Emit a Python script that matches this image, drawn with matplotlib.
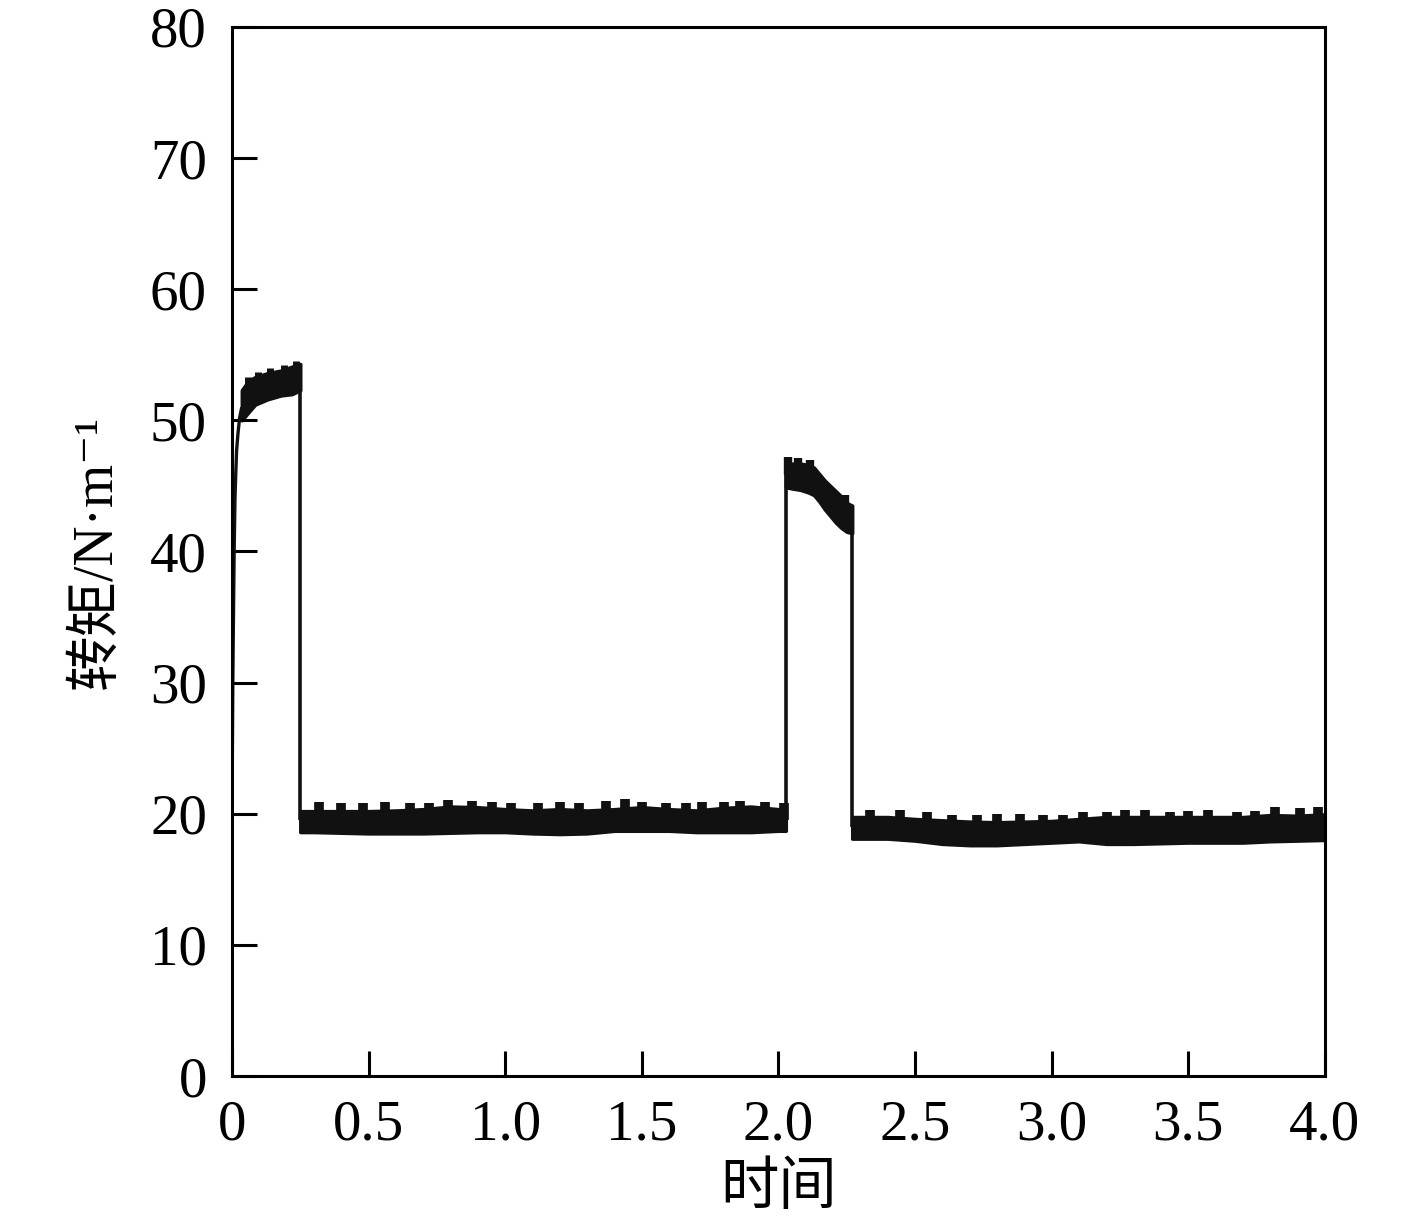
import matplotlib
matplotlib.use("Agg")
import matplotlib.pyplot as plt
import numpy as np

plt.rcParams["font.family"] = ["Liberation Serif", "Noto Sans CJK SC", "DejaVu Serif"]

# start-up curve (thin line)
rise_t = [0.0, 0.003, 0.008, 0.011, 0.014, 0.017, 0.022, 0.028, 0.036]
rise_v = [19.5, 30.0, 40.0, 44.0, 46.0, 47.7, 49.0, 50.2, 51.0]

# noisy band envelopes: first load (t 0.036-0.25)
band0_t = [0.036, 0.06, 0.085, 0.13, 0.18, 0.22, 0.25]
band0_top = [52.3, 53.0, 53.3, 53.6, 53.8, 54.1, 54.3]
band0_bot = [50.0, 50.6, 51.2, 51.6, 51.9, 52.0, 52.3]
spike0_t = [0.06, 0.095, 0.14, 0.19, 0.235]
spike0_top = [53.3, 53.7, 54.0, 54.2, 54.5]
spike0_floor = [51.5, 52.0, 52.5, 52.8, 53.0]

# no-load stretch (t 0.25-2.027)
band1_t = [0.25, 0.30, 0.40, 0.50, 0.60, 0.70, 0.80, 0.90, 1.00, 1.10,
           1.20, 1.30, 1.40, 1.50, 1.60, 1.70, 1.80, 1.90, 2.00, 2.027]
band1_top = [20.2, 20.2, 20.2, 20.2, 20.25, 20.35, 20.55, 20.5, 20.35, 20.25,
             20.35, 20.25, 20.35, 20.5, 20.35, 20.25, 20.45, 20.55, 20.35, 20.35]
band1_bot = [18.6, 18.6, 18.55, 18.5, 18.5, 18.5, 18.55, 18.6, 18.6, 18.5,
             18.45, 18.5, 18.7, 18.7, 18.7, 18.6, 18.6, 18.6, 18.7, 18.7]
spike1_t = [0.32, 0.40, 0.48, 0.56, 0.65, 0.72, 0.79, 0.88, 0.95, 1.02, 1.12, 1.20,
            1.27, 1.37, 1.44, 1.50, 1.59, 1.66, 1.72, 1.80, 1.86, 1.95, 2.02]
spike1_top = [20.9, 20.8, 20.85, 20.9, 20.85, 20.8, 21.05, 21.0, 20.9, 20.8, 20.8, 20.9,
              20.85, 21.0, 21.1, 20.9, 20.8, 20.85, 20.9, 20.9, 21.0, 20.9, 20.85]

# second load (t 2.027-2.27)
band3_t = [2.027, 2.05, 2.08, 2.11, 2.13, 2.15, 2.17, 2.19, 2.21, 2.23, 2.25, 2.27]
band3_top = [46.7, 46.7, 46.7, 46.6, 46.4, 45.9, 45.4, 45.0, 44.6, 44.2, 43.7, 43.5]
band3_bot = [44.9, 44.8, 44.7, 44.5, 44.3, 43.8, 43.2, 42.7, 42.2, 41.8, 41.5, 41.4]
spike3_t = [2.035, 2.07, 2.115, 2.245]
spike3_top = [47.2, 47.1, 47.0, 44.3]
spike3_floor = [45.8, 45.8, 45.6, 42.6]

# second no-load stretch (t 2.27-4.0)
band2_t = [2.27, 2.30, 2.40, 2.50, 2.60, 2.70, 2.80, 2.90, 3.00, 3.10,
           3.20, 3.30, 3.40, 3.50, 3.60, 3.70, 3.80, 3.90, 4.00]
band2_top = [19.75, 19.75, 19.75, 19.6, 19.5, 19.4, 19.35, 19.4, 19.45, 19.6,
             19.75, 19.75, 19.75, 19.75, 19.75, 19.75, 19.9, 19.85, 19.95]
band2_bot = [18.1, 18.1, 18.1, 17.95, 17.7, 17.6, 17.6, 17.7, 17.8, 17.9,
             17.7, 17.7, 17.75, 17.8, 17.8, 17.8, 17.9, 17.95, 18.0]
spike2_t = [2.335, 2.445, 2.543, 2.635, 2.726, 2.80, 2.884, 2.968, 3.041, 3.114, 3.202,
            3.268, 3.341, 3.433, 3.499, 3.572, 3.678, 3.744, 3.817, 3.909, 3.974]
spike2_top = [20.3, 20.25, 20.1, 19.9, 19.9, 19.95, 20.0, 19.9, 19.9, 20.15, 20.15,
              20.25, 20.25, 20.15, 20.2, 20.25, 20.15, 20.2, 20.5, 20.4, 20.5]

# step changes between load levels
jump_t = [0.25, 2.027, 2.27]
jump_lo = [19.5, 19.6, 19.0]
jump_hi = [53.0, 46.0, 42.5]

INK = "#111111"

fig = plt.figure(figsize=(14.17, 12.19), dpi=100)
ax = fig.add_axes([0.1637, 0.1173, 0.935 - 0.1637, 0.9779 - 0.1173])

ax.plot(rise_t, rise_v, color=INK, lw=2.4, solid_capstyle="butt")
ax.vlines(jump_t, jump_lo, jump_hi, color=INK, lw=2.6)

for bt, btop, bbot in [(band0_t, band0_top, band0_bot),
                       (band1_t, band1_top, band1_bot),
                       (band3_t, band3_top, band3_bot),
                       (band2_t, band2_top, band2_bot)]:
    ax.fill_between(bt, bbot, btop, facecolor=INK, edgecolor=INK, lw=2.5)

ax.vlines(spike0_t, spike0_floor, spike0_top, color=INK, lw=5)
ax.vlines(spike1_t, 19.5, spike1_top, color=INK, lw=7)
ax.vlines(spike2_t, 18.8, spike2_top, color=INK, lw=7)
ax.vlines(spike3_t, spike3_floor, spike3_top, color=INK, lw=6)

ax.set_xlim(0, 4.0)
ax.set_ylim(0, 80)
ax.set_xticks(np.arange(0, 4.01, 0.5))
ax.set_xticklabels(["0", "0.5", "1.0", "1.5", "2.0", "2.5", "3.0", "3.5", "4.0"])
ax.set_yticks(np.arange(0, 81, 10))

for s in ax.spines.values():
    s.set_linewidth(2.2)
ax.tick_params(direction="in", length=18, width=2.2, labelsize=41,
               top=False, right=False)
ax.tick_params(axis="y", pad=18)
ax.tick_params(axis="x", pad=17)

ax.set_xlabel("时间", fontsize=42, labelpad=8)
ax.set_ylabel("转矩/N·m⁻¹", fontsize=40, labelpad=20)

fig.savefig("out.png", dpi=100)
plt.close(fig)
